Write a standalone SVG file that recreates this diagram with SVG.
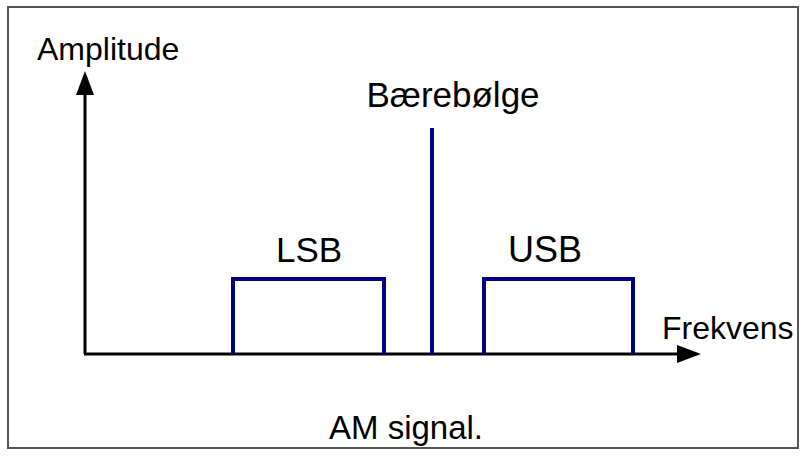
<svg xmlns="http://www.w3.org/2000/svg" width="806" height="457" viewBox="0 0 806 457">
<style>
text{font-family:"Liberation Sans",Arial,sans-serif;fill:#000;font-size:33px}
.big{font-size:35px}
.axis{stroke:#000;stroke-width:3;fill:none}
.sig{stroke:#000080;stroke-width:4;fill:none}
</style>
<defs>
<marker id="ah" markerWidth="8" markerHeight="6" refX="0" refY="3" orient="auto" markerUnits="strokeWidth">
<path d="M0,0 L8,3 L0,6 Z" fill="#000"/>
</marker>
</defs>
<rect x="0" y="0" width="806" height="457" fill="#fff"/>
<rect id="frame" x="8" y="7" width="790" height="441" fill="none" stroke="#555" stroke-width="2"/>
<g id="connectors">
<line class="axis" x1="84" y1="354" x2="677" y2="354" marker-end="url(#ah)"/>
<line class="axis" x1="85" y1="354" x2="85" y2="95" marker-end="url(#ah)"/>
</g>
<g id="lsb"><polyline class="sig" points="233,354 233,279 384,279 384,354"/><text class="big" x="309" y="262" text-anchor="middle">LSB</text></g>
<g id="carrier"><line class="sig" x1="432" y1="354" x2="432" y2="128"/><text class="big" x="453" y="107" text-anchor="middle">Bærebølge</text></g>
<g id="usb"><polyline class="sig" points="484,354 484,279 633,279 633,354"/><text class="big" x="545" y="262" text-anchor="middle" style="font-size:36px">USB</text></g>
<g id="amplitude"><text x="37" y="60" style="font-size:32px">Amplitude</text></g>
<g id="frekvens"><text x="662" y="339" style="font-size:32px">Frekvens</text></g>
<g id="caption"><text x="406" y="439" text-anchor="middle">AM signal.</text></g>
</svg>
